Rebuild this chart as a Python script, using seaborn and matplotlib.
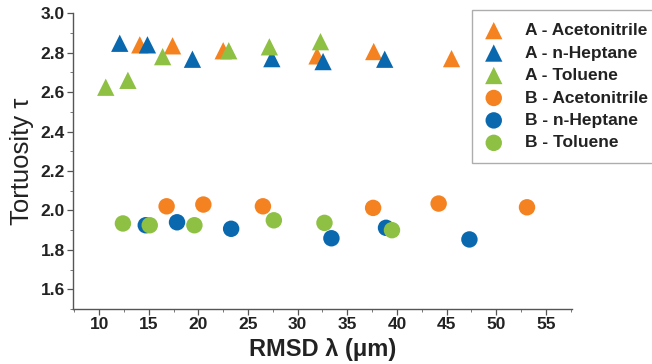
import numpy as np
import pandas as pd
import matplotlib
matplotlib.use("Agg")
import matplotlib.pyplot as plt
import seaborn as sns
from matplotlib.ticker import MultipleLocator

# ---- data ----
a_acn_x = [14.1, 17.4, 22.5, 31.95, 37.66, 45.5]
a_acn_y = [2.84, 2.835, 2.81, 2.784, 2.806, 2.77]
a_hep_x = [12.08, 14.87, 19.4, 27.4, 32.56, 38.77]
a_hep_y = [2.848, 2.84, 2.767, 2.77, 2.755, 2.767]
a_tol_x = [10.67, 12.9, 16.4, 23.06, 27.15, 32.3]
a_tol_y = [2.625, 2.66, 2.78, 2.81, 2.83, 2.856]
b_acn_x = [16.8, 20.5, 26.5, 37.6, 44.2, 53.1]
b_acn_y = [2.021, 2.03, 2.021, 2.013, 2.035, 2.016]
b_hep_x = [14.7, 17.85, 23.3, 33.4, 38.9, 47.3]
b_hep_y = [1.925, 1.94, 1.907, 1.859, 1.912, 1.853]
b_tol_x = [12.4, 15.1, 19.6, 27.6, 32.7, 39.5]
b_tol_y = [1.934, 1.925, 1.925, 1.95, 1.937, 1.9]

series_names = ["A - Acetonitrile", "A - n-Heptane", "A - Toluene",
                "B - Acetonitrile", "B - n-Heptane", "B - Toluene"]
series_x = [a_acn_x, a_hep_x, a_tol_x, b_acn_x, b_hep_x, b_tol_x]
series_y = [a_acn_y, a_hep_y, a_tol_y, b_acn_y, b_hep_y, b_tol_y]

frames = []
for name, xs, ys in zip(series_names, series_x, series_y):
    frames.append(pd.DataFrame({"x": xs, "y": ys, "series": name}))
df = pd.concat(frames, ignore_index=True)

orange, blue, green = "#F58220", "#0A69AE", "#8DC043"
palette = dict(zip(series_names, [orange, blue, green, orange, blue, green]))
markers = dict(zip(series_names, ["^", "^", "^", "o", "o", "o"]))

sns.set_style("ticks")
plt.rcParams["font.family"] = ["Liberation Sans", "DejaVu Sans"]

fig = plt.figure(figsize=(6.52, 3.64), dpi=100)
ax = fig.add_axes([0.1124, 0.151, 0.7644, 0.8125])

for name in series_names:
    sub = df[df["series"] == name]
    sns.scatterplot(data=sub, x="x", y="y", color=palette[name],
                    marker=markers[name], s=155 if markers[name] == "^" else 140,
                    edgecolor="none", linewidth=0, ax=ax, label=name, zorder=3)

ax.set_xlim(7.4, 57.6)
ax.set_ylim(1.5, 3.0)
ax.set_xticks(np.arange(10, 56, 5))
ax.set_yticks(np.arange(1.6, 3.01, 0.2))
ax.set_yticklabels([f"{v:.1f}" for v in np.arange(1.6, 3.01, 0.2)])
ax.xaxis.set_minor_locator(MultipleLocator(2.5))
ax.yaxis.set_minor_locator(MultipleLocator(0.1))

for side in ["top", "right"]:
    ax.spines[side].set_visible(False)
for side in ["left", "bottom"]:
    ax.spines[side].set_color("#555555")
    ax.spines[side].set_linewidth(1.0)

ax.tick_params(which="major", length=4, width=0.9, color="#555555",
               labelsize=12.5, labelcolor="#222222", pad=2)
ax.tick_params(which="minor", length=2.5, width=0.7, color="#777777")
for lab in ax.get_xticklabels() + ax.get_yticklabels():
    lab.set_fontweight("bold")

ax.set_xlabel("RMSD λ (μm)", fontsize=17, fontweight="bold", color="#222222", labelpad=4)
ax.set_ylabel("Tortuosity τ", fontsize=18.5, color="#222222", labelpad=5)

leg = ax.legend(loc="upper left", bbox_to_anchor=(0.724, 0.9725),
                bbox_transform=fig.transFigure, frameon=True, fancybox=False,
                edgecolor="#999999", prop={"weight": "bold", "size": 12.5},
                handlelength=1.0, handletextpad=1.3, borderpad=0.75,
                labelspacing=0.42, borderaxespad=0)
leg.get_frame().set_linewidth(1.0)
for t in leg.get_texts():
    t.set_color("#222222")

fig.savefig("out.png", dpi=100)
